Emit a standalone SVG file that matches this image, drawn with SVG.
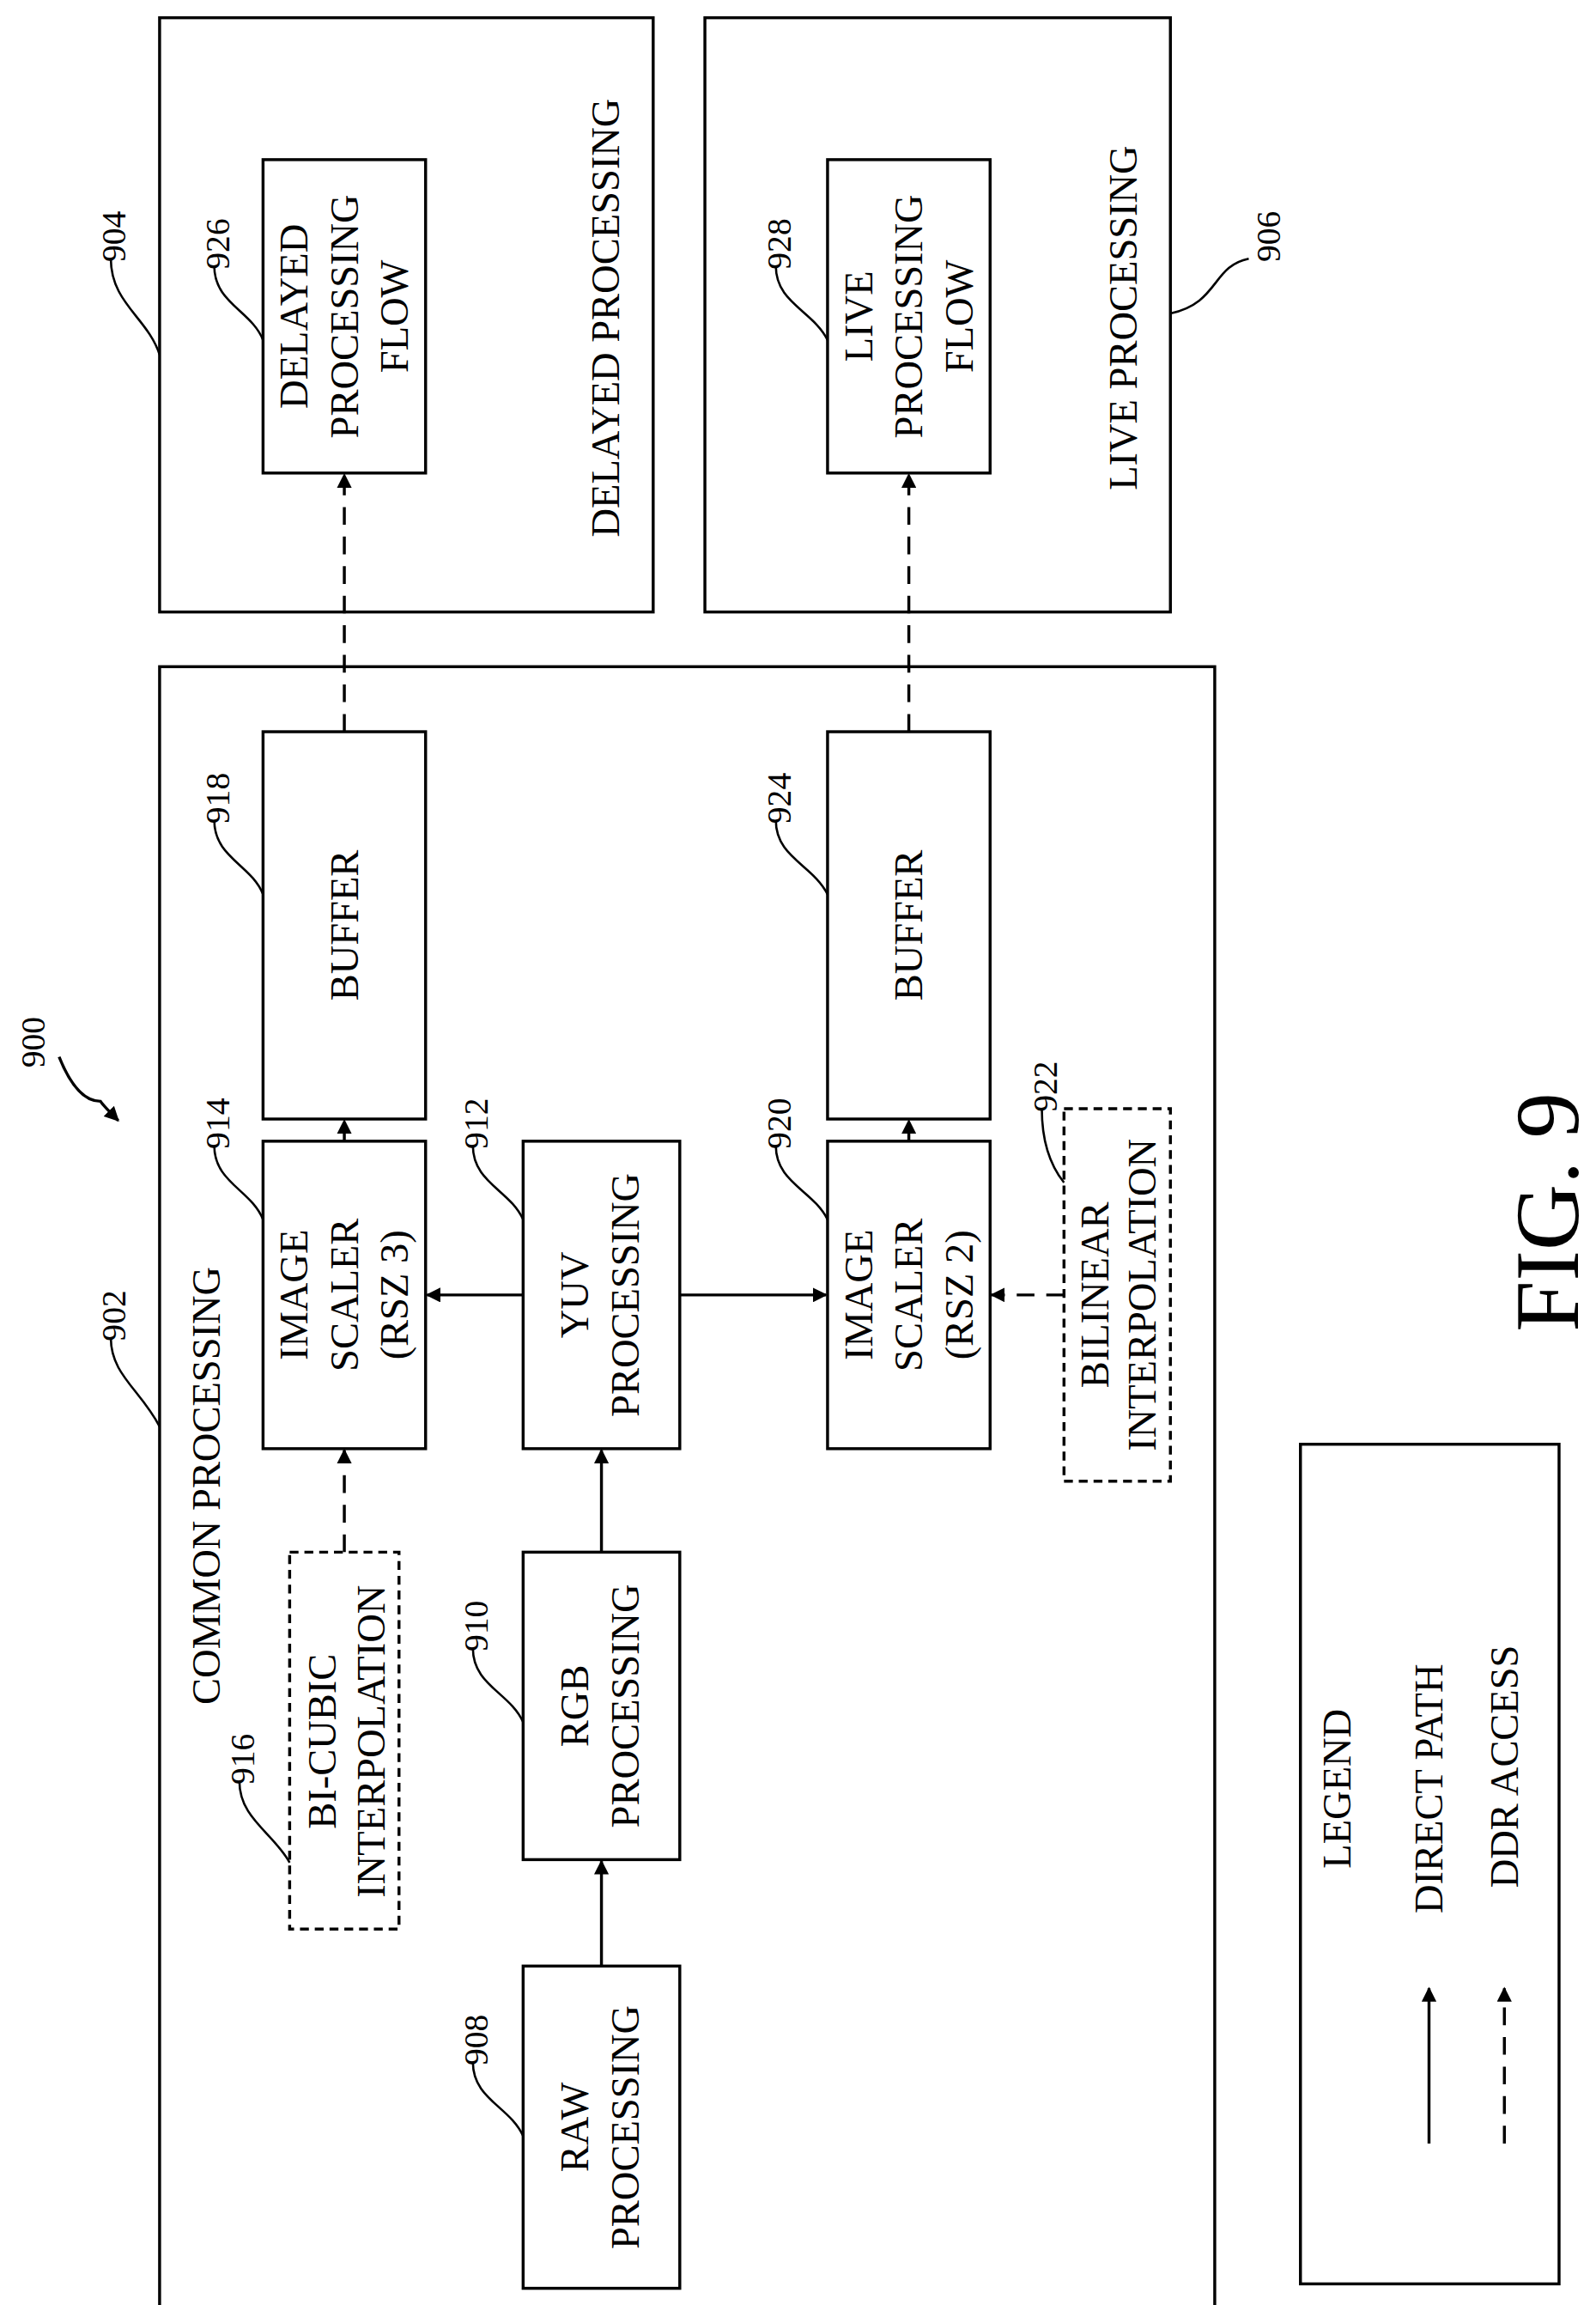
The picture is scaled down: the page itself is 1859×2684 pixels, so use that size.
<svg xmlns="http://www.w3.org/2000/svg" width="1859" height="2684" viewBox="0 0 1859 2684">
<defs>
<marker id="ah" markerWidth="10" markerHeight="10" refX="9" refY="5" orient="auto" markerUnits="userSpaceOnUse"><path d="M0,0 L10,5 L0,10 z" fill="#000"/></marker>
<style>
.b{fill:#fff;stroke:#000;stroke-width:2}
.d{fill:#fff;stroke:#000;stroke-width:2;stroke-dasharray:6,4}
.t{font-family:"Liberation Serif",serif;font-size:27px;text-anchor:middle;fill:#000}
.n{font-family:"Liberation Serif",serif;font-size:23px;text-anchor:middle;fill:#000}
.s{stroke:#000;stroke-width:2;fill:none;marker-end:url(#ah)}
.ds{stroke:#000;stroke-width:2;fill:none;stroke-dasharray:12,8;marker-end:url(#ah)}
.l{stroke:#000;stroke-width:1.5;fill:none}
</style>
</defs>
<rect width="1859" height="2684" fill="#fff"/>
<g transform="scale(1.7213)">
<g id="n904"><rect class="b" x="108" y="12" width="334" height="402"/><text class="t" transform="translate(419,215) rotate(-90)">DELAYED PROCESSING</text></g>
<g id="n906"><rect class="b" x="477" y="12" width="315" height="402"/><text class="t" transform="translate(769,215) rotate(-90)">LIVE PROCESSING</text></g>
<g id="n902"><rect class="b" x="108" y="451" width="714" height="1132"/><text class="t" transform="translate(149,1005) rotate(-90)">COMMON PROCESSING</text></g>
<g id="n926"><rect class="b" x="178" y="108" width="110" height="212"/><text class="t" transform="translate(208,214) rotate(-90)">DELAYED</text><text class="t" transform="translate(242,214) rotate(-90)">PROCESSING</text><text class="t" transform="translate(276,214) rotate(-90)">FLOW</text></g>
<g id="n928"><rect class="b" x="560" y="108" width="110" height="212"/><text class="t" transform="translate(590,214) rotate(-90)">LIVE</text><text class="t" transform="translate(624,214) rotate(-90)">PROCESSING</text><text class="t" transform="translate(658,214) rotate(-90)">FLOW</text></g>
<g id="n918"><rect class="b" x="178" y="495" width="110" height="262"/><text class="t" transform="translate(242,626) rotate(-90)">BUFFER</text></g>
<g id="n924"><rect class="b" x="560" y="495" width="110" height="262"/><text class="t" transform="translate(624,626) rotate(-90)">BUFFER</text></g>
<g id="n914"><rect class="b" x="178" y="772" width="110" height="208"/><text class="t" transform="translate(208,876) rotate(-90)">IMAGE</text><text class="t" transform="translate(242,876) rotate(-90)">SCALER</text><text class="t" transform="translate(276,876) rotate(-90)">(RSZ 3)</text></g>
<g id="n912"><rect class="b" x="354" y="772" width="106" height="208"/><text class="t" transform="translate(398,876) rotate(-90)">YUV</text><text class="t" transform="translate(432,876) rotate(-90)">PROCESSING</text></g>
<g id="n920"><rect class="b" x="560" y="772" width="110" height="208"/><text class="t" transform="translate(590,876) rotate(-90)">IMAGE</text><text class="t" transform="translate(624,876) rotate(-90)">SCALER</text><text class="t" transform="translate(658,876) rotate(-90)">(RSZ 2)</text></g>
<g id="n922"><rect class="d" x="720" y="750" width="72" height="252"/><text class="t" transform="translate(750,876) rotate(-90)">BILINEAR</text><text class="t" transform="translate(782,876) rotate(-90)">INTERPOLATION</text></g>
<g id="n916"><rect class="d" x="196" y="1050" width="74" height="255"/><text class="t" transform="translate(227,1178) rotate(-90)">BI-CUBIC</text><text class="t" transform="translate(260,1178) rotate(-90)">INTERPOLATION</text></g>
<g id="n910"><rect class="b" x="354" y="1050" width="106" height="208"/><text class="t" transform="translate(398,1154) rotate(-90)">RGB</text><text class="t" transform="translate(432,1154) rotate(-90)">PROCESSING</text></g>
<g id="n908"><rect class="b" x="354" y="1330" width="106" height="218"/><text class="t" transform="translate(398,1439) rotate(-90)">RAW</text><text class="t" transform="translate(432,1439) rotate(-90)">PROCESSING</text></g>
<g id="legend"><rect class="b" x="880" y="977" width="175" height="568"/><text class="t" transform="translate(914,1210) rotate(-90)">LEGEND</text><text class="t" transform="translate(976,1210) rotate(-90)">DIRECT PATH</text><text class="t" transform="translate(1027,1195) rotate(-90)">DDR ACCESS</text>
<path class="s" d="M967,1450 V1345"/><path class="ds" d="M1018,1450 V1345"/></g>
<g id="connectors">
<path class="ds" d="M233,495 V321"/><path class="ds" d="M615,495 V321"/>
<path class="ds" d="M233,772 V758"/><path class="ds" d="M615,772 V758"/>
<path class="s" d="M354,876 H289"/><path class="s" d="M460,876 H559"/>
<path class="ds" d="M720,876 H671"/>
<path class="ds" d="M233,1050 V981"/>
<path class="s" d="M407,1050 V981"/><path class="s" d="M407,1330 V1259"/>
</g>
<g id="labels">
<text class="n" transform="translate(30,705) rotate(-90)">900</text>
<path class="s" d="M40,715 C50,740 60,745 68,745 C70,748 74,752 80,758"/>
<text class="n" transform="translate(85,890) rotate(-90)">902</text><path class="l" d="M75,905 C75,930 95,940 108,965"/>
<text class="n" transform="translate(85,160) rotate(-90)">904</text><path class="l" d="M75,175 C75,205 100,215 108,240"/>
<text class="n" transform="translate(866,160) rotate(-90)">906</text><path class="l" d="M845,175 C820,180 825,205 792,212"/>
<text class="n" transform="translate(330,1380) rotate(-90)">908</text><path class="l" d="M320,1395 C320,1420 345,1425 354,1445"/>
<text class="n" transform="translate(330,1100) rotate(-90)">910</text><path class="l" d="M320,1115 C320,1140 345,1145 354,1165"/>
<text class="n" transform="translate(330,760) rotate(-90)">912</text><path class="l" d="M320,775 C320,800 345,805 354,825"/>
<text class="n" transform="translate(155,760) rotate(-90)">914</text><path class="l" d="M145,775 C145,800 170,805 178,825"/>
<text class="n" transform="translate(172,1190) rotate(-90)">916</text><path class="l" d="M162,1205 C162,1230 185,1240 196,1260"/>
<text class="n" transform="translate(155,540) rotate(-90)">918</text><path class="l" d="M145,555 C145,580 170,585 178,605"/>
<text class="n" transform="translate(535,760) rotate(-90)">920</text><path class="l" d="M525,775 C525,800 550,805 560,825"/>
<text class="n" transform="translate(715,735) rotate(-90)">922</text><path class="l" d="M705,750 C705,775 712,790 720,800"/>
<text class="n" transform="translate(535,540) rotate(-90)">924</text><path class="l" d="M525,555 C525,580 550,585 560,605"/>
<text class="n" transform="translate(155,165) rotate(-90)">926</text><path class="l" d="M145,180 C145,205 170,210 178,230"/>
<text class="n" transform="translate(535,165) rotate(-90)">928</text><path class="l" d="M525,180 C525,205 550,210 560,230"/>
<text transform="translate(1068,820) rotate(-90)" style="font-family:'Liberation Serif',serif;font-size:62px;text-anchor:middle">FIG. 9</text>
</g>
</g>
</svg>
